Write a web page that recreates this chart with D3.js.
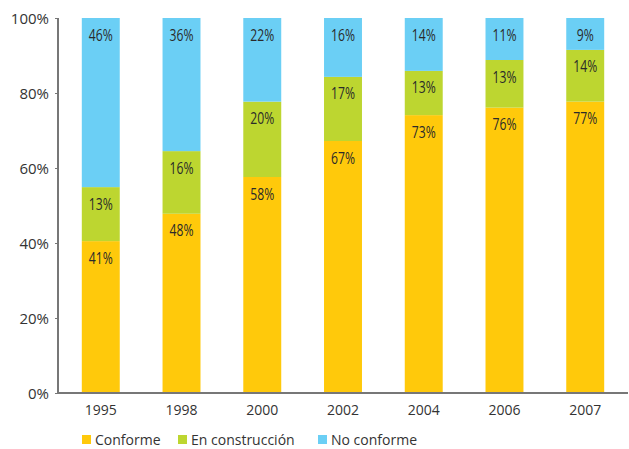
<!DOCTYPE html>
<html><head><meta charset="utf-8">
<script src="https://cdn.jsdelivr.net/npm/d3@7/dist/d3.min.js"></script>
<style>body{margin:0;background:#fff}svg{display:block}</style>
</head><body><svg id="c" width="629" height="449"></svg>
<script>
const years = ["1995","1998","2000","2002","2004","2006","2007"];
const conforme = [40.5,47.8,57.6,67.2,74.1,76.1,77.7];
const construccion = [14.4,16.7,20.1,17.1,11.8,12.7,13.8];
const noConforme = [45.1,35.5,22.3,15.7,14.1,11.2,8.5];
// printed labels
const conformeLabels = ["41%","48%","58%","67%","73%","76%","77%"];
const construccionLabels = ["13%","16%","20%","17%","13%","13%","14%"];
const noConformeLabels = ["46%","36%","22%","16%","14%","11%","9%"];
const seriesNames = ["Conforme","En construcción","No conforme"];
const colors = ["#FFC90B","#BDD630","#6BCFF5"];
const yTicks = [0,20,40,60,80,100];

(function(){
const labels = [conformeLabels, construccionLabels, noConformeLabels];
const svg = d3.select("#c");
const pL = 58, pR = 628, pT = 18, pB = 393;
const x = d3.scaleBand().domain(years).range([pL+2, pR-2]).paddingInner(0.53).paddingOuter(0.27);
const y = d3.scaleLinear().domain([0,100]).range([pB, pT]);

const rows = years.map((yr,i)=>({year:yr, idx:i, "Conforme":conforme[i], "En construcción":construccion[i], "No conforme":noConforme[i]}));
const stack = d3.stack().keys(seriesNames)(rows);

const g = svg.append("g");
stack.forEach((s,si)=>{
  const gg = g.append("g");
  gg.selectAll("rect").data(s).enter().append("rect")
    .attr("x", d=>x(d.data.year)).attr("width", x.bandwidth())
    .attr("y", d=>y(Math.min(d[1],100))).attr("height", d=>y(d[0])-y(Math.min(d[1],100)))
    .attr("fill", colors[si]);
  gg.selectAll("text").data(s).enter().append("text")
    .attr("transform", d=>`translate(${x(d.data.year)+x.bandwidth()/2},${y(Math.min(d[1],100))+22.5}) scale(0.76,1)`)
    .attr("text-anchor","middle")
    .attr("font-family","'Open Sans',sans-serif")
    .attr("font-size",16).attr("fill","#2a2a2a")
    .text(d=>labels[si][d.data.idx]);
});

const yAxis = d3.axisLeft(y).tickValues(yTicks).tickSize(3).tickFormat(d=>d+"%");
const ya = svg.append("g").attr("transform",`translate(${pL},0)`).call(yAxis);
ya.select(".domain").attr("stroke","#777").attr("stroke-width",2).attr("d",`M0,${pT}V${pB}`);
ya.selectAll(".tick line").attr("stroke","#777");
ya.selectAll(".tick text").attr("x",-9).attr("dy","0.35em")
  .attr("font-family","'Open Sans',sans-serif").attr("font-size",15).attr("fill","#333");

svg.append("line").attr("x1",pL-1).attr("x2",pR).attr("y1",pB).attr("y2",pB)
  .attr("stroke","#777").attr("stroke-width",2);

const xAxis = d3.axisBottom(x).tickSize(0);
const xa = svg.append("g").attr("transform",`translate(0,${pB})`).call(xAxis);
xa.select(".domain").remove();
xa.selectAll(".tick text").attr("y",12).attr("dy","0.71em")
  .attr("font-family","'Open Sans',sans-serif").attr("font-size",14).attr("fill","#333");

const legX = [82,178,318];
const leg = svg.append("g");
seriesNames.forEach((n,i)=>{
  leg.append("rect").attr("x",legX[i]).attr("y",435).attr("width",9).attr("height",9).attr("fill",colors[i]);
  leg.append("text").attr("x",legX[i]+13).attr("y",444.5)
    .attr("font-family","'Open Sans',sans-serif").attr("font-size",14).attr("fill","#333").text(n);
});
})();
</script></body></html>
